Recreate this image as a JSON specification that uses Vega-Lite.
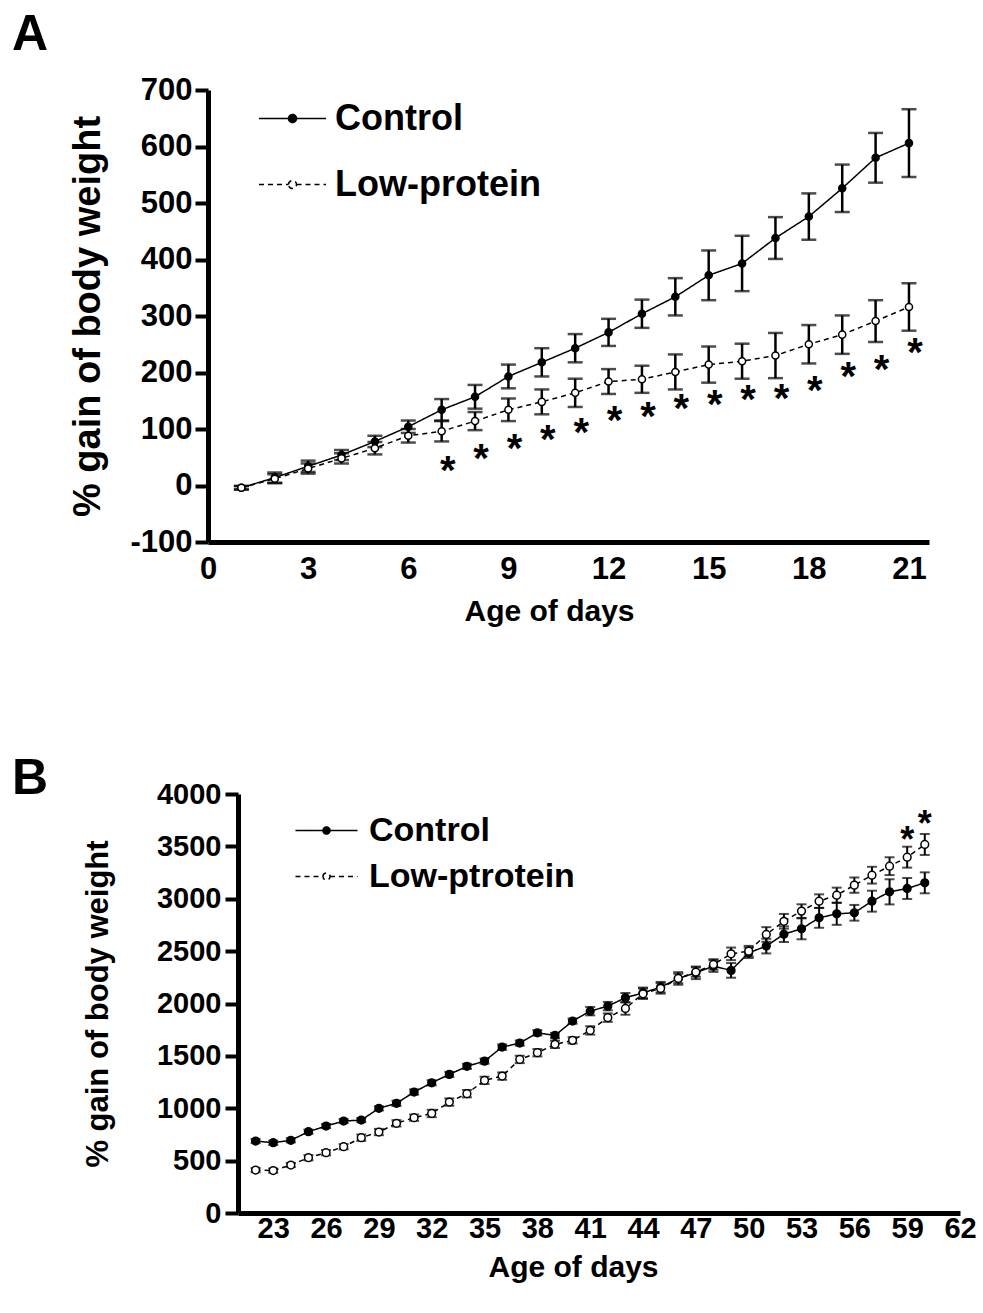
{
  "$schema": "https://vega.github.io/schema/vega-lite/v6.json",
  "background": "white",
  "padding": {"left": 12, "top": 10, "right": 10, "bottom": 10},
  "config": {
    "font": "Liberation Sans",
    "view": {"stroke": null},
    "axis": {"domainColor": "black", "tickColor": "black", "labelColor": "black", "titleColor": "black", "labelFont": "Liberation Sans", "titleFont": "Liberation Sans", "labelFontWeight": "bold", "titleFontWeight": "bold", "grid": false, "labelExpr": "toString(datum.value)"}
  },
  "datasets": {
    "a": [
      {"day": 1, "group": "Control", "value": -4, "sem": 3},
      {"day": 2, "group": "Control", "value": 14, "sem": 9},
      {"day": 3, "group": "Control", "value": 34, "sem": 10},
      {"day": 4, "group": "Control", "value": 54, "sem": 9},
      {"day": 5, "group": "Control", "value": 78, "sem": 10},
      {"day": 6, "group": "Control", "value": 104, "sem": 11},
      {"day": 7, "group": "Control", "value": 134, "sem": 19},
      {"day": 8, "group": "Control", "value": 157, "sem": 21},
      {"day": 9, "group": "Control", "value": 193, "sem": 21},
      {"day": 10, "group": "Control", "value": 218, "sem": 25},
      {"day": 11, "group": "Control", "value": 243, "sem": 25},
      {"day": 12, "group": "Control", "value": 271, "sem": 24},
      {"day": 13, "group": "Control", "value": 304, "sem": 25},
      {"day": 14, "group": "Control", "value": 334, "sem": 33},
      {"day": 15, "group": "Control", "value": 372, "sem": 44},
      {"day": 16, "group": "Control", "value": 393, "sem": 49},
      {"day": 17, "group": "Control", "value": 438, "sem": 37},
      {"day": 18, "group": "Control", "value": 476, "sem": 41},
      {"day": 19, "group": "Control", "value": 526, "sem": 42},
      {"day": 20, "group": "Control", "value": 580, "sem": 44},
      {"day": 21, "group": "Control", "value": 606, "sem": 60},
      {"day": 1, "group": "Low-protein", "value": -4, "sem": 3},
      {"day": 2, "group": "Low-protein", "value": 12, "sem": 8},
      {"day": 3, "group": "Low-protein", "value": 30, "sem": 9},
      {"day": 4, "group": "Low-protein", "value": 48, "sem": 9},
      {"day": 5, "group": "Low-protein", "value": 66, "sem": 11},
      {"day": 6, "group": "Low-protein", "value": 88, "sem": 12},
      {"day": 7, "group": "Low-protein", "value": 96, "sem": 18},
      {"day": 8, "group": "Low-protein", "value": 114, "sem": 16},
      {"day": 9, "group": "Low-protein", "value": 134, "sem": 20},
      {"day": 10, "group": "Low-protein", "value": 148, "sem": 22},
      {"day": 11, "group": "Low-protein", "value": 164, "sem": 25},
      {"day": 12, "group": "Low-protein", "value": 184, "sem": 22},
      {"day": 13, "group": "Low-protein", "value": 188, "sem": 24},
      {"day": 14, "group": "Low-protein", "value": 201, "sem": 31},
      {"day": 15, "group": "Low-protein", "value": 214, "sem": 32},
      {"day": 16, "group": "Low-protein", "value": 220, "sem": 31},
      {"day": 17, "group": "Low-protein", "value": 230, "sem": 40},
      {"day": 18, "group": "Low-protein", "value": 250, "sem": 34},
      {"day": 19, "group": "Low-protein", "value": 267, "sem": 34},
      {"day": 20, "group": "Low-protein", "value": 291, "sem": 37},
      {"day": 21, "group": "Low-protein", "value": 316, "sem": 42}
    ],
    "astar": [
      {"day": 7, "value": 39}, {"day": 8, "value": 61}, {"day": 9, "value": 78},
      {"day": 10, "value": 94}, {"day": 11, "value": 107}, {"day": 12, "value": 129},
      {"day": 13, "value": 135}, {"day": 14, "value": 149}, {"day": 15, "value": 157},
      {"day": 16, "value": 166}, {"day": 17, "value": 167}, {"day": 18, "value": 182},
      {"day": 19, "value": 207}, {"day": 20, "value": 219}, {"day": 21, "value": 248}
    ],
    "b": [
      {"day": 22, "group": "Control", "value": 687, "sem": 20},
      {"day": 23, "group": "Control", "value": 671, "sem": 20},
      {"day": 24, "group": "Control", "value": 694, "sem": 20},
      {"day": 25, "group": "Control", "value": 776, "sem": 20},
      {"day": 26, "group": "Control", "value": 830, "sem": 20},
      {"day": 27, "group": "Control", "value": 878, "sem": 20},
      {"day": 28, "group": "Control", "value": 887, "sem": 20},
      {"day": 29, "group": "Control", "value": 999, "sem": 20},
      {"day": 30, "group": "Control", "value": 1047, "sem": 25},
      {"day": 31, "group": "Control", "value": 1155, "sem": 25},
      {"day": 32, "group": "Control", "value": 1243, "sem": 25},
      {"day": 33, "group": "Control", "value": 1323, "sem": 25},
      {"day": 34, "group": "Control", "value": 1400, "sem": 25},
      {"day": 35, "group": "Control", "value": 1450, "sem": 25},
      {"day": 36, "group": "Control", "value": 1584, "sem": 25},
      {"day": 37, "group": "Control", "value": 1622, "sem": 25},
      {"day": 38, "group": "Control", "value": 1720, "sem": 25},
      {"day": 39, "group": "Control", "value": 1695, "sem": 25},
      {"day": 40, "group": "Control", "value": 1832, "sem": 25},
      {"day": 41, "group": "Control", "value": 1927, "sem": 40},
      {"day": 42, "group": "Control", "value": 1975, "sem": 40},
      {"day": 43, "group": "Control", "value": 2055, "sem": 45},
      {"day": 44, "group": "Control", "value": 2102, "sem": 50},
      {"day": 45, "group": "Control", "value": 2156, "sem": 50},
      {"day": 46, "group": "Control", "value": 2239, "sem": 45},
      {"day": 47, "group": "Control", "value": 2293, "sem": 60},
      {"day": 48, "group": "Control", "value": 2357, "sem": 55},
      {"day": 49, "group": "Control", "value": 2316, "sem": 70},
      {"day": 50, "group": "Control", "value": 2484, "sem": 50},
      {"day": 51, "group": "Control", "value": 2548, "sem": 70},
      {"day": 52, "group": "Control", "value": 2662, "sem": 75},
      {"day": 53, "group": "Control", "value": 2713, "sem": 100},
      {"day": 54, "group": "Control", "value": 2818, "sem": 95},
      {"day": 55, "group": "Control", "value": 2856, "sem": 105},
      {"day": 56, "group": "Control", "value": 2866, "sem": 75},
      {"day": 57, "group": "Control", "value": 2977, "sem": 100},
      {"day": 58, "group": "Control", "value": 3066, "sem": 120},
      {"day": 59, "group": "Control", "value": 3098, "sem": 100},
      {"day": 60, "group": "Control", "value": 3152, "sem": 100},
      {"day": 22, "group": "Low-ptrotein", "value": 410, "sem": 20},
      {"day": 23, "group": "Low-ptrotein", "value": 405, "sem": 20},
      {"day": 24, "group": "Low-ptrotein", "value": 458, "sem": 20},
      {"day": 25, "group": "Low-ptrotein", "value": 528, "sem": 25},
      {"day": 26, "group": "Low-ptrotein", "value": 576, "sem": 25},
      {"day": 27, "group": "Low-ptrotein", "value": 633, "sem": 25},
      {"day": 28, "group": "Low-ptrotein", "value": 719, "sem": 30},
      {"day": 29, "group": "Low-ptrotein", "value": 773, "sem": 30},
      {"day": 30, "group": "Low-ptrotein", "value": 856, "sem": 30},
      {"day": 31, "group": "Low-ptrotein", "value": 910, "sem": 30},
      {"day": 32, "group": "Low-ptrotein", "value": 950, "sem": 35},
      {"day": 33, "group": "Low-ptrotein", "value": 1059, "sem": 35},
      {"day": 34, "group": "Low-ptrotein", "value": 1139, "sem": 35},
      {"day": 35, "group": "Low-ptrotein", "value": 1266, "sem": 35},
      {"day": 36, "group": "Low-ptrotein", "value": 1307, "sem": 35},
      {"day": 37, "group": "Low-ptrotein", "value": 1466, "sem": 35},
      {"day": 38, "group": "Low-ptrotein", "value": 1530, "sem": 35},
      {"day": 39, "group": "Low-ptrotein", "value": 1610, "sem": 35},
      {"day": 40, "group": "Low-ptrotein", "value": 1648, "sem": 30},
      {"day": 41, "group": "Low-ptrotein", "value": 1743, "sem": 40},
      {"day": 42, "group": "Low-ptrotein", "value": 1865, "sem": 40},
      {"day": 43, "group": "Low-ptrotein", "value": 1953, "sem": 60},
      {"day": 44, "group": "Low-ptrotein", "value": 2093, "sem": 50},
      {"day": 45, "group": "Low-ptrotein", "value": 2144, "sem": 50},
      {"day": 46, "group": "Low-ptrotein", "value": 2239, "sem": 60},
      {"day": 47, "group": "Low-ptrotein", "value": 2300, "sem": 45},
      {"day": 48, "group": "Low-ptrotein", "value": 2373, "sem": 50},
      {"day": 49, "group": "Low-ptrotein", "value": 2474, "sem": 60},
      {"day": 50, "group": "Low-ptrotein", "value": 2500, "sem": 50},
      {"day": 51, "group": "Low-ptrotein", "value": 2659, "sem": 70},
      {"day": 52, "group": "Low-ptrotein", "value": 2785, "sem": 70},
      {"day": 53, "group": "Low-ptrotein", "value": 2882, "sem": 65},
      {"day": 54, "group": "Low-ptrotein", "value": 2977, "sem": 65},
      {"day": 55, "group": "Low-ptrotein", "value": 3034, "sem": 72},
      {"day": 56, "group": "Low-ptrotein", "value": 3130, "sem": 73},
      {"day": 57, "group": "Low-ptrotein", "value": 3225, "sem": 80},
      {"day": 58, "group": "Low-ptrotein", "value": 3311, "sem": 85},
      {"day": 59, "group": "Low-ptrotein", "value": 3397, "sem": 100},
      {"day": 60, "group": "Low-ptrotein", "value": 3518, "sem": 100}
    ],
    "bstar": [
      {"day": 59, "value": 3629}, {"day": 60, "value": 3779}
    ]
  },
  "spacing": 128,
  "resolve": {
    "scale": {"x": "independent", "y": "independent", "fill": "independent", "strokeDash": "independent"},
    "legend": {"fill": "independent", "strokeDash": "independent"}
  },
  "vconcat": [
    {
      "title": {"text": "A", "anchor": "start", "frame": "group", "fontSize": 50, "fontWeight": "bold", "color": "black", "dx": -196, "offset": -26, "baseline": "alphabetic"},
      "width": 721,
      "height": 452,
      "data": {"name": "a"},
      "encoding": {
        "x": {"field": "day", "type": "quantitative", "scale": {"domain": [0, 21.6], "nice": false, "zero": false},
          "axis": {"title": "Age of days", "titleX": 341, "values": [0, 3, 6, 9, 12, 15, 18, 21], "ticks": false, "labelFontSize": 31, "titleFontSize": 30, "domainWidth": 5, "labelPadding": 12, "titlePadding": 12, "labelFlush": false}},
        "y": {"field": "value", "type": "quantitative", "scale": {"domain": [-100, 700], "nice": false},
          "axis": {"title": "% gain of body weight", "values": [-100, 0, 100, 200, 300, 400, 500, 600, 700], "labelFontSize": 31, "titleFontSize": 38, "tickSize": 13, "tickWidth": 4, "domainWidth": 5, "labelPadding": 3, "titlePadding": 22}}
      },
      "layer": [
        {
          "mark": {"type": "line", "color": "black", "strokeWidth": 1.5},
          "encoding": {
            "strokeDash": {"field": "group", "type": "nominal", "scale": {"domain": ["Control", "Low-protein"], "range": [[1, 0], [5, 4]]},
              "legend": {"title": null, "orient": "none", "legendX": 50, "legendY": -6, "symbolType": "M -1 0 L -0.12 0 M 0.12 0 L 1 0 M -0.12 0 A 0.12 0.12 0 1 1 0.12 0 A 0.12 0.12 0 1 1 -0.12 0 Z", "symbolSize": 4489, "symbolStrokeColor": "black", "symbolStrokeWidth": 1.5, "labelFontSize": 36, "labelFont": "Liberation Sans", "labelFontWeight": "bold", "labelColor": "black", "labelOffset": 8, "labelLimit": 500, "rowPadding": 13, "padding": 0}}
          }
        },
        {
          "mark": {"type": "errorbar", "color": "black", "ticks": {"size": 15, "thickness": 2.5}, "rule": {"strokeWidth": 2.5}},
          "encoding": {"yError": {"field": "sem"}, "detail": {"field": "group"}}
        },
        {
          "mark": {"type": "point", "shape": "circle", "filled": true, "stroke": "black", "strokeWidth": 1.5, "size": 50, "opacity": 1},
          "encoding": {
            "fill": {"field": "group", "type": "nominal", "scale": {"domain": ["Control", "Low-protein"], "range": ["black", "white"]},
              "legend": {"title": null, "orient": "none", "legendX": 50, "legendY": -6, "symbolType": "M -1 0 L -0.12 0 M 0.12 0 L 1 0 M -0.12 0 A 0.12 0.12 0 1 1 0.12 0 A 0.12 0.12 0 1 1 -0.12 0 Z", "symbolSize": 4489, "symbolStrokeColor": "black", "symbolStrokeWidth": 1.5, "labelFontSize": 36, "labelFont": "Liberation Sans", "labelFontWeight": "bold", "labelColor": "black", "labelOffset": 8, "labelLimit": 500, "rowPadding": 13, "padding": 0}}
          }
        },
        {
          "data": {"name": "astar"},
          "mark": {"type": "text", "text": "*", "fontSize": 40, "fontWeight": "bold", "color": "black", "dx": 6, "dy": 9, "baseline": "middle", "align": "center"}
        }
      ]
    },
    {
      "hconcat": [
        {
          "width": 1,
          "height": 1,
          "data": {"values": []},
          "mark": "point",
          "encoding": {}
        },
        {
          "title": {"text": "B", "anchor": "start", "frame": "group", "fontSize": 50, "fontWeight": "bold", "color": "black", "dx": -226, "offset": -64, "baseline": "alphabetic"},
          "width": 722,
          "height": 419,
          "data": {"name": "b"},
          "encoding": {
            "x": {"field": "day", "type": "quantitative", "scale": {"domain": [21, 62], "nice": false, "zero": false},
              "axis": {"title": "Age of days", "titleX": 335, "values": [23, 26, 29, 32, 35, 38, 41, 44, 47, 50, 53, 56, 59, 62], "ticks": false, "labelFontSize": 29, "titleFontSize": 30, "domainWidth": 5, "labelPadding": 1, "titlePadding": 9, "labelFlush": false}},
            "y": {"field": "value", "type": "quantitative", "scale": {"domain": [0, 4000], "nice": false},
              "axis": {"title": "% gain of body weight", "values": [0, 500, 1000, 1500, 2000, 2500, 3000, 3500, 4000], "labelFontSize": 29, "titleFontSize": 31, "tickSize": 13, "tickWidth": 4, "domainWidth": 5, "labelPadding": 4, "titlePadding": 42}}
          },
          "layer": [
            {
              "mark": {"type": "line", "color": "black", "strokeWidth": 1.5},
              "encoding": {
                "strokeDash": {"field": "group", "type": "nominal", "scale": {"domain": ["Control", "Low-ptrotein"], "range": [[1, 0], [5, 4]]},
                  "legend": {"title": null, "orient": "none", "legendX": 94, "legendY": 12, "symbolType": "M -1.32 0 L -0.15 0 M 0.15 0 L 1.32 0 M -0.15 0 A 0.15 0.15 0 1 1 0.15 0 A 0.15 0.15 0 1 1 -0.15 0 Z", "symbolSize": 2209, "symbolStrokeColor": "black", "symbolStrokeWidth": 1.5, "labelFontSize": 34, "labelFont": "Liberation Sans", "labelFontWeight": "bold", "labelColor": "black", "labelOffset": 18, "labelLimit": 500, "rowPadding": 4, "padding": 0}}
              }
            },
            {
              "mark": {"type": "errorbar", "color": "black", "ticks": {"size": 10, "thickness": 2}, "rule": {"strokeWidth": 2}},
              "encoding": {"yError": {"field": "sem"}, "detail": {"field": "group"}}
            },
            {
              "mark": {"type": "point", "shape": "circle", "filled": true, "stroke": "black", "strokeWidth": 1.5, "size": 60, "opacity": 1},
              "encoding": {
                "fill": {"field": "group", "type": "nominal", "scale": {"domain": ["Control", "Low-ptrotein"], "range": ["black", "white"]},
                  "legend": {"title": null, "orient": "none", "legendX": 94, "legendY": 12, "symbolType": "M -1.32 0 L -0.15 0 M 0.15 0 L 1.32 0 M -0.15 0 A 0.15 0.15 0 1 1 0.15 0 A 0.15 0.15 0 1 1 -0.15 0 Z", "symbolSize": 2209, "symbolStrokeColor": "black", "symbolStrokeWidth": 1.5, "labelFontSize": 34, "labelFont": "Liberation Sans", "labelFontWeight": "bold", "labelColor": "black", "labelOffset": 18, "labelLimit": 500, "rowPadding": 4, "padding": 0}}
              }
            },
            {
              "data": {"name": "bstar"},
              "mark": {"type": "text", "text": "*", "fontSize": 36, "fontWeight": "bold", "color": "black", "dx": 0, "dy": 8, "baseline": "middle", "align": "center"}
            }
          ]
        }
      ],
      "spacing": 29,
      "bounds": "flush"
    }
  ]
}
